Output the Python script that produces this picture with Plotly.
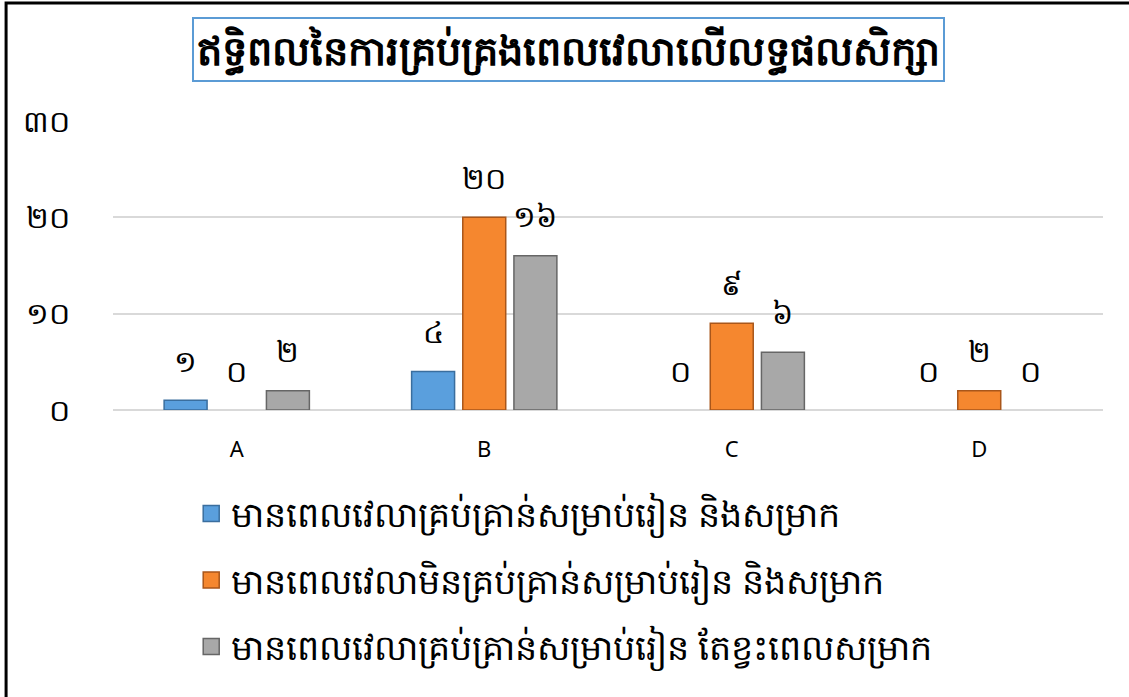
import plotly.graph_objects as go

KH_DIGITS = "០១២៣៤៥៦៧៨៩"

def kh(n):
    return "".join(KH_DIGITS[int(c)] for c in str(n))

categories = ["A", "B", "C", "D"]
series_names = [
    "មានពេលវេលាគ្រប់គ្រាន់សម្រាប់រៀន និងសម្រាក",
    "មានពេលវេលាមិនគ្រប់គ្រាន់សម្រាប់រៀន និងសម្រាក",
    "មានពេលវេលាគ្រប់គ្រាន់សម្រាប់រៀន តែខ្វះពេលសម្រាក",
]
enough_both = [1, 4, 0, 0]
not_enough = [0, 20, 9, 2]
enough_study_no_rest = [2, 16, 6, 0]
series_values = [enough_both, not_enough, enough_study_no_rest]
colors = ["#5A9FDD", "#F5872F", "#A8A8A8"]
edge_colors = ["#3A6E9E", "#A9561A", "#666666"]
y_ticks = [0, 10, 20, 30]
title_text = "ឥទ្ធិពលនៃការគ្រប់គ្រងពេលវេលាលើលទ្ធផលសិក្សា"

FONT = "Noto Sans, DejaVu Sans, sans-serif"

fig = go.Figure()
for i, (name, vals) in enumerate(zip(series_names, series_values)):
    fig.add_trace(go.Bar(
        x=categories, y=vals, name=name, showlegend=False,
        offsetgroup=str(i),
        marker=dict(color=colors[i],
                    line=dict(color=edge_colors[i],
                              width=[1.5 if v > 0 else 0 for v in vals])),
    ))
for i, vals in enumerate(series_values):
    fig.add_trace(go.Scatter(
        x=categories, y=vals, mode="markers+text", offsetgroup=str(i),
        marker=dict(size=32, opacity=0), showlegend=False, hoverinfo="skip",
        text=[kh(v) for v in vals], textposition="top center",
        textfont=dict(size=30, color="#000000", family=FONT),
        cliponaxis=False,
    ))
# legend entries (square swatches)
for i, name in enumerate(series_names):
    fig.add_trace(go.Scatter(
        x=[None], y=[None], mode="markers", name=name, legendgroup=f"g{i}",
        marker=dict(symbol="square", size=16, color=colors[i],
                    line=dict(color=edge_colors[i], width=1.5)),
    ))

fig.update_layout(
    width=1129, height=697,
    paper_bgcolor="white", plot_bgcolor="white",
    margin=dict(l=113, r=26, t=121, b=287, autoexpand=False),
    barmode="group", bargap=0.38, bargroupgap=0.16,
    scattermode="group", scattergap=0.38,
    showlegend=True,
    legend=dict(
        x=0.079, y=-0.257, xanchor="left", yanchor="top",
        orientation="v", font=dict(size=35, family=FONT, color="#000"),
        tracegroupgap=18,
    ),
    annotations=[dict(
        text="<b>" + title_text + "</b>",
        xref="paper", yref="paper", x=0.4606, y=1.2457,
        xanchor="center", yanchor="middle", showarrow=False,
        font=dict(size=40, family=FONT, color="#000"),
        bordercolor="#5B9BD5", borderwidth=2, borderpad=3, bgcolor="white",
    )],
    shapes=[dict(
        type="rect", xref="paper", yref="paper",
        x0=-0.108, x1=1.1, y0=-1.2, y1=1.408,
        line=dict(color="#000000", width=3), layer="below",
    )],
)
fig.update_xaxes(
    showgrid=False, showline=False, ticks="",
    tickfont=dict(size=22, family=FONT, color="#000"),
    ticklabelstandoff=24,
)
fig.update_yaxes(
    range=[0, 30], tickvals=y_ticks, ticktext=[kh(v) for v in y_ticks],
    showgrid=True, gridcolor="#D9D9D9", gridwidth=1.5,
    zeroline=True, zerolinecolor="#D9D9D9", zerolinewidth=1.5,
    showline=False, ticks="",
    tickfont=dict(size=30, family=FONT, color="#000"),
    ticklabelstandoff=42,
)

fig.write_html("out.html", config={"displayModeBar": False},
               post_script="document.body.style.margin='0px';")
